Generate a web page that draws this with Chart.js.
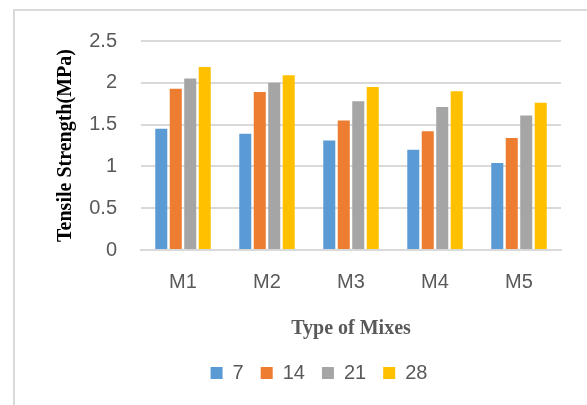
<!DOCTYPE html>
<html>
<head>
<meta charset="utf-8">
<script src="https://cdn.jsdelivr.net/npm/chart.js@4/dist/chart.umd.min.js"></script>
<style>
  body { margin: 0; background: #fff; }
  #marco { position: absolute; left: 13px; top: 9px; width: 600px; height: 420px;
           border-top: 2px solid #d9d9d9; border-left: 2px solid #d9d9d9; }
  #caja { position: absolute; left: 0; top: 0; width: 587px; height: 405px; }
</style>
</head>
<body>
<div id="marco"></div>
<div id="caja"><canvas id="grafico" width="587" height="405"></canvas></div>
<script>
const mezclas = ['M1', 'M2', 'M3', 'M4', 'M5'];
const dias = ['7', '14', '21', '28'];
const valores7 = [1.45, 1.39, 1.31, 1.20, 1.04];
const valores14 = [1.93, 1.89, 1.55, 1.42, 1.34];
const valores21 = [2.05, 2.00, 1.78, 1.71, 1.61];
const valores28 = [2.19, 2.09, 1.95, 1.90, 1.76];
const etiquetasY = ['0', '0.5', '1', '1.5', '2', '2.5'];
const colores = ['#5b9bd5', '#ed7d31', '#a5a5a5', '#ffc000'];

const series = [valores7, valores14, valores21, valores28];
const fuenteEje = 'Liberation Sans';
const fuenteTitulo = 'Liberation Serif';

const ctx = document.querySelector('#grafico').getContext('2d');
const miGrafico = new Chart(ctx, {
  type: 'bar',
  data: {
    labels: mezclas,
    datasets: series.map((s, i) => ({
      label: dias[i],
      data: s,
      backgroundColor: colores[i],
      borderWidth: 0,
      categoryPercentage: 0.69,
      barPercentage: 0.83
    }))
  },
  options: {
    responsive: false,
    animation: false,
    layout: { padding: { left: 77, right: 26, top: 41, bottom: 12 } },
    plugins: {
      tooltip: { enabled: false },
      legend: {
        position: 'bottom',
        labels: {
          boxWidth: 12, boxHeight: 12, padding: 17,
          color: '#595959',
          font: { family: fuenteEje, size: 20 }
        }
      }
    },
    scales: {
      x: {
        grid: { display: false, drawTicks: false },
        border: { color: '#d9d9d9', width: 2 },
        ticks: { color: '#595959', padding: 20, font: { family: fuenteEje, size: 20 } },
        title: {
          display: true, text: 'Type of Mixes', color: '#595959',
          padding: { top: 3, bottom: 5 },
          font: { family: fuenteTitulo, size: 20, weight: 'bold' }
        }
      },
      y: {
        min: 0, max: 2.5,
        afterFit: (escala) => { escala.width = 64; },
        grid: { color: '#d9d9d9', lineWidth: 2, drawTicks: false },
        border: { display: false },
        ticks: {
          stepSize: 0.5, color: '#595959', padding: 24,
          font: { family: fuenteEje, size: 20 },
          callback: (valor, i) => etiquetasY[i]
        },
        title: {
          display: true, text: 'Tensile Strength(MPa)', color: '#000',
          padding: { top: -23, bottom: 0 },
          font: { family: fuenteTitulo, size: 20, weight: 'bold' }
        }
      }
    }
  }
});
</script>
</body>
</html>
